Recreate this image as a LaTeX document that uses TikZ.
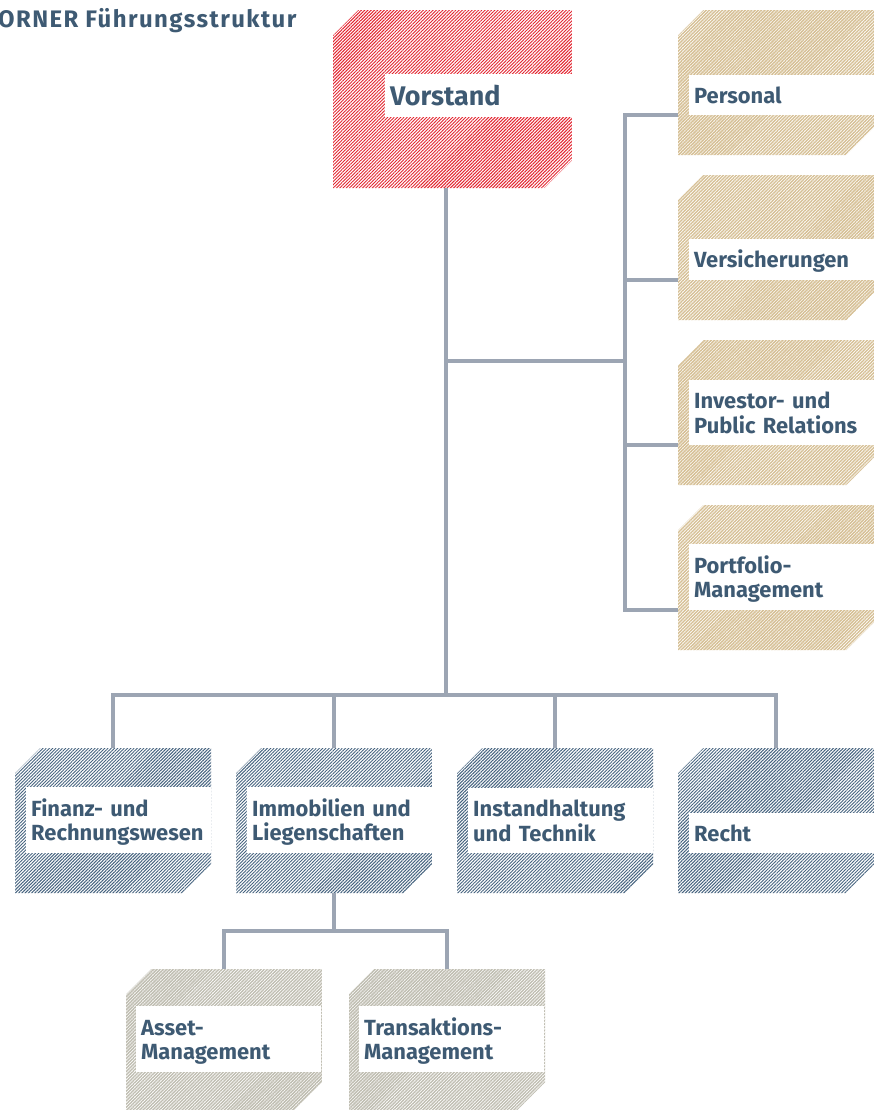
\documentclass[tikz,border=0pt]{standalone}
\usepackage{fontspec}
\setmainfont{Fira Sans}
\newfontfamily\titlefont{Fira Sans}[LetterSpace=6]
\usetikzlibrary{patterns.meta}

\definecolor{boardred}{HTML}{E2242F}
\definecolor{staffsand}{HTML}{D6C096}
\definecolor{deptblue}{HTML}{46637F}
\definecolor{subgray}{HTML}{C0BEB2}
\definecolor{textblue}{HTML}{3E5A73}
\definecolor{linkgray}{HTML}{9CA5B3}

\tikzset{
  orgbox/.style 2 args={anchor=north west, inner sep=0pt,
    minimum width=196bp, minimum height=145bp,
    path picture={
      \fill[pattern={Lines[angle=45,distance=2.3bp,line width=#2]}, pattern color=#1]
        ([yshift=-25bp]path picture bounding box.north west)
        -- ([xshift=25bp]path picture bounding box.north west)
        -- (path picture bounding box.north east)
        -- ([yshift=28bp]path picture bounding box.south east)
        -- ([xshift=-28bp]path picture bounding box.south east)
        -- (path picture bounding box.south west) -- cycle;
    }},
  boxlabel/.style={anchor=south west, fill=white, inner xsep=5bp, inner ysep=7bp,
    text width=175bp, align=left, text=textblue,
    font=\bfseries\fontsize{22}{25}\selectfont,
    execute at begin node={\rule{0pt}{22bp}},
    execute at end node={\rule[-4bp]{0pt}{4bp}}},
  link/.style={draw=linkgray, line width=4bp},
}

\begin{document}
\begin{tikzpicture}[x=1bp, y=-1bp]
\useasboundingbox (0,0) rectangle (875,1110);

\node[anchor=base west, inner sep=0pt, text=textblue,
  font=\titlefont\bfseries\fontsize{24}{28}\selectfont] (title) at (-2,27) {ORNER Führungsstruktur};

% connectors
\coordinate (trunk) at (446,695);
\coordinate (branch) at (446,361);
\coordinate (spine) at (625,361);
\coordinate (subbus) at (333,931);

% boxes
\node[orgbox={boardred}{0.95bp}, minimum width=239bp, minimum height=178bp] (vorstand) at (333,10) {};
\node[boxlabel, text width=177bp, font=\bfseries\fontsize{27}{30}\selectfont,
  execute at begin node={\rule{0pt}{25bp}},
  execute at end node={\rule[-3bp]{0pt}{3bp}}] (vorstand-t) at ([xshift=52bp,yshift=-107bp]vorstand.north west) {Vorstand};

\foreach \n/\y/\t in {personal/10/Personal, versicherungen/175/Versicherungen,
    investor/340/{Investor- und\\Public Relations}, portfolio/505/{Portfolio-\\Management}} {
  \node[orgbox={staffsand}{1.5bp}] (\n) at (678,\y) {};
  \node[boxlabel] (\n-t) at ([xshift=11bp,yshift=-105bp]\n.north west) {\t};
}

\foreach \n/\x/\t in {finanzen/15/{Finanz- und\\Rechnungswesen}, immobilien/236/{Immobilien und\\Liegenschaften},
    instandhaltung/457/{Instandhaltung\\und Technik}, recht/678/Recht} {
  \node[orgbox={deptblue}{0.95bp}] (\n) at (\x,748) {};
  \node[boxlabel] (\n-t) at ([xshift=11bp,yshift=-105bp]\n.north west) {\t};
}

\foreach \n/\x/\t in {asset/126/{Asset-\\Management}, transaktion/349/{Transaktions-\\Management}} {
  \node[orgbox={subgray}{1.5bp}, minimum height=141bp] (\n) at (\x,969) {};
  \node[boxlabel] (\n-t) at ([xshift=10bp,yshift=-103bp]\n.north west) {\t};
}

\draw[link] (vorstand.south -| trunk) -- (trunk);
\draw[link] (branch) -- (spine);
\draw[link] (personal.west |- personal-t.south) -| (spine |- portfolio-t.south) -- (portfolio.west |- portfolio-t.south);
\foreach \n in {versicherungen,investor}
  \draw[link] (spine |- \n-t.south) -- (\n.west |- \n-t.south);
\draw[link] (finanzen.north) |- (trunk) -| (recht.north);
\foreach \n in {immobilien,instandhaltung}
  \draw[link] (\n.north) -- (\n.north |- trunk);
\draw[link] (immobilien.south) -- (immobilien.south |- subbus);
\draw[link] (asset.north) |- (subbus) -| (transaktion.north);
\end{tikzpicture}
\end{document}
